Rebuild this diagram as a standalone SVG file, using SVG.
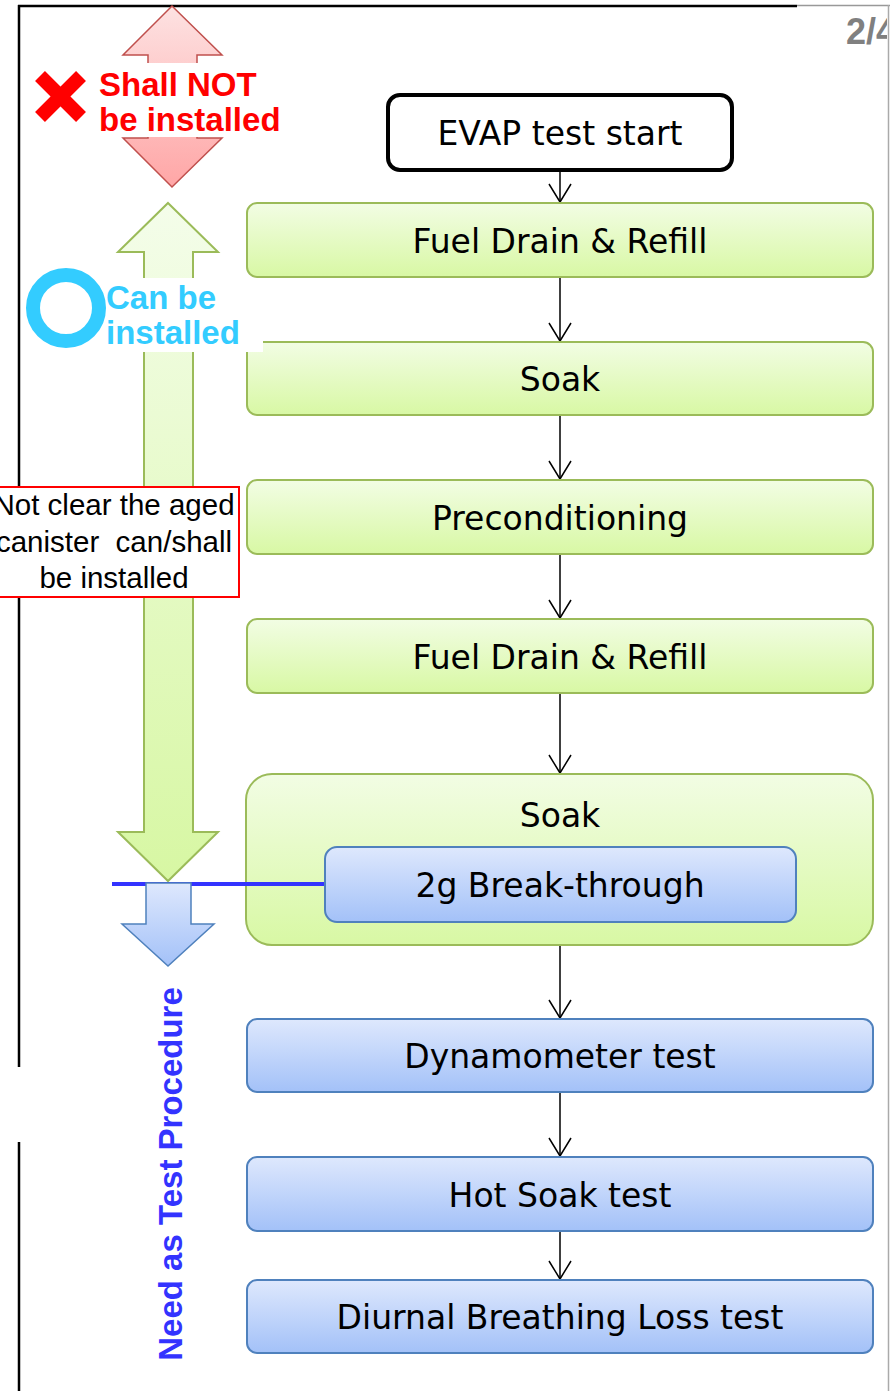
<svg xmlns="http://www.w3.org/2000/svg" width="890" height="1391" viewBox="0 0 890 1391">
<style>
.bt{font-family:"DejaVu Sans",Verdana,sans-serif;font-size:33px;fill:#000;text-anchor:middle}
.gbox{fill:url(#gG);stroke:#9bbb59;stroke-width:2}
.bbox{fill:url(#gB);stroke:#4f81bd;stroke-width:2}
.con{stroke:#000;stroke-width:1.5;fill:none;marker-end:url(#ah)}
.lbl{font-family:"Liberation Sans",Arial,sans-serif;font-weight:bold;font-size:33px}
</style>
<defs>
<linearGradient id="gG" x1="0" y1="0" x2="0" y2="1"><stop offset="0" stop-color="#f2fde4"/><stop offset="1" stop-color="#d8f8a4"/></linearGradient>
<linearGradient id="gB" x1="0" y1="0" x2="0" y2="1"><stop offset="0" stop-color="#dee8fd"/><stop offset="1" stop-color="#a3c1f8"/></linearGradient>
<linearGradient id="gR" x1="0" y1="0" x2="0" y2="1"><stop offset="0" stop-color="#fde2e2"/><stop offset="1" stop-color="#ffa6a6"/></linearGradient>
<linearGradient id="gGA" x1="0" y1="0" x2="0" y2="1"><stop offset="0" stop-color="#f4fdea"/><stop offset="1" stop-color="#d7f7a3"/></linearGradient>
<marker id="ah" markerUnits="userSpaceOnUse" viewBox="-20 -12 22 24" markerWidth="22" markerHeight="24" refX="0" refY="0" orient="auto">
<path d="M-18,-11 L0,0 L-18,11" fill="none" stroke="#000" stroke-width="1.5"/>
</marker>
<clipPath id="pg"><rect x="0" y="0" width="887" height="1391"/></clipPath>
</defs>
<rect width="890" height="1391" fill="#fff"/>

<g id="frame">
<line x1="19" y1="5" x2="19" y2="1067" stroke="#000" stroke-width="2.5"/>
<line x1="19" y1="1142" x2="19" y2="1391" stroke="#000" stroke-width="2.5"/>
<line x1="18" y1="6" x2="797" y2="6" stroke="#000" stroke-width="2.5"/>
<line x1="797" y1="5.5" x2="890" y2="5.5" stroke="#999" stroke-width="1.5"/>
<line x1="888.5" y1="5" x2="888.5" y2="1391" stroke="#aaa" stroke-width="1.5"/>
<text x="846" y="44" clip-path="url(#pg)" font-family="Liberation Sans,Arial,sans-serif" font-weight="bold" font-size="36" fill="#808080">2/4</text>
</g>

<g id="shall-not">
<path d="M172,6 L222,55 L197,55 L197,138 L222,138 L172,187 L123,138 L148,138 L148,55 L123,55 Z" fill="url(#gR)" stroke="#c0504d" stroke-width="1.5"/>
<rect x="95" y="63" width="192" height="74" fill="#fff"/>
<line x1="40" y1="76" x2="81" y2="117" stroke="#ff0000" stroke-width="14"/>
<line x1="81" y1="76" x2="40" y2="117" stroke="#ff0000" stroke-width="14"/>
<text class="lbl" x="99" y="96" fill="#ff0000">Shall NOT</text>
<text class="lbl" x="99" y="131" fill="#ff0000">be installed</text>
</g>

<g id="can-be-arrow">
<path d="M168,203 L218,252 L193,252 L193,832 L218,832 L168,881 L118,832 L144,832 L144,252 L118,252 Z" fill="url(#gGA)" stroke="#9bbb59" stroke-width="2"/>
</g>

<g id="connectors">
<path class="con" d="M560,170 V202"/>
<path class="con" d="M560,277 V341"/>
<path class="con" d="M560,415 V479"/>
<path class="con" d="M560,554 V618"/>
<path class="con" d="M560,693 V773"/>
<path class="con" d="M560,922 V1018"/>
<path class="con" d="M560,1092 V1156"/>
<path class="con" d="M560,1231 V1279"/>
</g>

<g id="evap-start">
<rect x="388" y="95" width="344" height="75" rx="12" fill="#fff" stroke="#000" stroke-width="4"/>
<text class="bt" x="560" y="145">EVAP test start</text>
</g>
<g id="fuel-drain-1">
<rect class="gbox" x="247" y="203" width="626" height="74" rx="10"/>
<text class="bt" x="560" y="253">Fuel Drain &amp; Refill</text>
</g>
<g id="soak-1">
<rect class="gbox" x="247" y="342" width="626" height="73" rx="10"/>
<text class="bt" x="560" y="391">Soak</text>
</g>
<g id="preconditioning">
<rect class="gbox" x="247" y="480" width="626" height="74" rx="10"/>
<text class="bt" x="560" y="530">Preconditioning</text>
</g>
<g id="fuel-drain-2">
<rect class="gbox" x="247" y="619" width="626" height="74" rx="10"/>
<text class="bt" x="560" y="669">Fuel Drain &amp; Refill</text>
</g>
<g id="soak-2">
<rect class="gbox" x="246" y="774" width="627" height="171" rx="26"/>
<text class="bt" x="560" y="827">Soak</text>
</g>

<g id="need-test">
<line x1="112" y1="884" x2="325" y2="884" stroke="#3333ff" stroke-width="4"/>
<path d="M146,883 L191,883 L191,924 L214,924 L168,966 L122,924 L146,924 Z" fill="url(#gB)" stroke="#4f81bd" stroke-width="1.5"/>
<text class="lbl" transform="translate(182,1174) rotate(-90)" text-anchor="middle" font-size="35" fill="#3333ff">Need as Test Procedure</text>
</g>

<g id="breakthrough">
<rect class="bbox" x="325" y="847" width="471" height="75" rx="12"/>
<text class="bt" x="560" y="897">2g Break-through</text>
</g>
<g id="dynamometer">
<rect class="bbox" x="247" y="1019" width="626" height="73" rx="10"/>
<text class="bt" x="560" y="1068">Dynamometer test</text>
</g>
<g id="hot-soak">
<rect class="bbox" x="247" y="1157" width="626" height="74" rx="10"/>
<text class="bt" x="560" y="1207">Hot Soak test</text>
</g>
<g id="diurnal">
<rect class="bbox" x="247" y="1280" width="626" height="73" rx="10"/>
<text class="bt" x="560" y="1329">Diurnal Breathing Loss test</text>
</g>

<g id="can-be">
<rect x="100" y="278" width="163" height="74" fill="#fff"/>
<circle cx="66" cy="308" r="33" fill="none" stroke="#33ccff" stroke-width="14"/>
<text class="lbl" x="106" y="309" fill="#33ccff">Can be</text>
<text class="lbl" x="106" y="344" fill="#33ccff">installed</text>
</g>

<g id="not-clear">
<rect x="-3" y="487" width="242" height="110" fill="#fff" stroke="#ff0000" stroke-width="2"/>
<text font-family="Liberation Sans,Arial,sans-serif" font-size="29.5" fill="#000" text-anchor="middle" xml:space="preserve"><tspan x="114" y="515">Not clear the aged</tspan><tspan x="114" y="552">canister  can/shall</tspan><tspan x="114" y="588">be installed</tspan></text>
</g>
</svg>
